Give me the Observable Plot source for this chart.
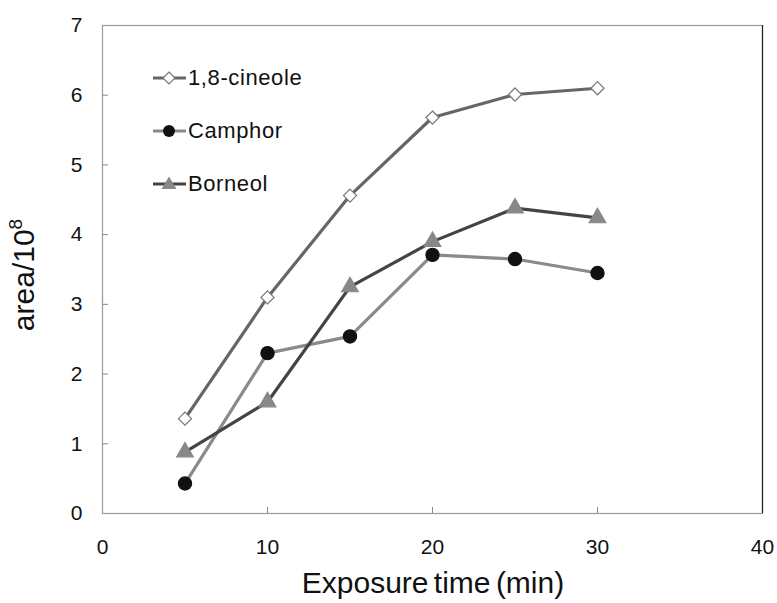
<!DOCTYPE html>
<html>
<head>
<meta charset="utf-8">
<script src="https://cdn.jsdelivr.net/npm/d3@7"></script>
<script src="https://cdn.jsdelivr.net/npm/@observablehq/plot@0.6"></script>
<style>
  html, body { margin: 0; padding: 0; background: #fff; }
  #wrap { position: relative; width: 777px; height: 603px; font-family: "Liberation Sans", Arial, sans-serif; }
  #legend { position: absolute; left: 153px; top: 64px; }
  .item { position: absolute; left: 0; height: 28px; display: flex; align-items: center; white-space: nowrap; font-size: 22px; letter-spacing: 0.6px; color: #111; }
  .item svg { margin-right: 2px; }
</style>
</head>
<body>
<div id="wrap"></div>
<script>
const times = [5, 10, 15, 20, 25, 30];
const seriesNames = ["1,8-cineole", "Camphor", "Borneol"];
const cineole = [1.36, 3.1, 4.56, 5.68, 6.01, 6.1];
const camphor = [0.43, 2.3, 2.54, 3.71, 3.65, 3.45];
const borneol = [0.88, 1.6, 3.25, 3.9, 4.38, 4.24];
const xTicks = [0, 10, 20, 30, 40];
const yTicks = [0, 1, 2, 3, 4, 5, 6, 7];

const styles = {
  "1,8-cineole": {line: "#666", symbol: "diamond2", fill: "#fff", stroke: "#777", r: 5.9},
  "Camphor": {line: "#8a8a8a", symbol: "circle", fill: "#111", stroke: "#111", r: 6.6},
  "Borneol": {line: "#444", symbol: "triangle", fill: "#888", stroke: "#888", r: 6.2}
};
const values = {"1,8-cineole": cineole, "Camphor": camphor, "Borneol": borneol};
const rows = seriesNames.flatMap(s => times.map((t, i) => ({series: s, t, v: values[s][i]})));

const marks = [
  Plot.frame({stroke: "#999", strokeWidth: 1.2}),
  Plot.ruleX([40], {stroke: "#222", strokeWidth: 1.2}),
  Plot.axisX(xTicks, {tickSize: 0, tickPadding: 26, fontSize: 21, fill: "#111", tickFormat: "d"}),
  Plot.axisX(xTicks.slice(1, -1), {tickSize: -6, text: null, stroke: "#888"}),
  Plot.axisY(yTicks, {tickSize: 0, tickPadding: 20, fontSize: 21, fill: "#111", tickFormat: "d"}),
  Plot.axisY(yTicks.slice(1, -1), {tickSize: -6, text: null, stroke: "#888"})
];
for (const s of seriesNames) {
  const st = styles[s];
  const d = rows.filter(r => r.series === s);
  marks.push(Plot.line(d, {x: "t", y: "v", stroke: st.line, strokeWidth: 3.2}));
}
for (const s of seriesNames) {
  const st = styles[s];
  const d = rows.filter(r => r.series === s);
  marks.push(Plot.dot(d, {x: "t", y: "v", symbol: () => st.symbol, fill: st.fill, stroke: st.stroke, strokeWidth: 1.2, r: st.r}));
}

const chart = Plot.plot({
  width: 777,
  height: 603,
  marginLeft: 102,
  marginRight: 15,
  marginTop: 25,
  marginBottom: 90,
  style: {fontFamily: "'Liberation Sans', Arial, sans-serif", background: "#fff", overflow: "visible"},
  x: {domain: [0, 40], label: null},
  y: {domain: [0, 7], label: null},
  symbol: {type: "identity"},
  marks
});
const wrap = document.getElementById("wrap");
wrap.appendChild(chart);

// axis titles as SVG text
const svg = d3.select(chart);
svg.append("text")
  .attr("x", 433).attr("y", 593)
  .attr("text-anchor", "middle")
  .attr("font-size", 30).attr("word-spacing", -3).attr("fill", "#111")
  .text("Exposure time (min)");
const yl = svg.append("text")
  .attr("transform", "translate(34,275) rotate(-90)")
  .attr("text-anchor", "middle")
  .attr("font-size", 30).attr("fill", "#111");
yl.append("tspan").text("area/10");
yl.append("tspan").attr("font-size", 19).attr("dy", -12).text("8");

// legend
const legend = document.createElement("div");
legend.id = "legend";
seriesNames.forEach((s, i) => {
  const st = styles[s];
  const item = document.createElement("div");
  item.className = "item";
  item.style.top = (i * 53) + "px";
  let sym;
  if (st.symbol === "diamond2") sym = `<path d="M16,8 L22,14 L16,20 L10,14 Z" fill="#fff" stroke="${st.stroke}" stroke-width="1.2"/>`;
  else if (st.symbol === "circle") sym = `<circle cx="16" cy="14" r="6" fill="${st.fill}"/>`;
  else sym = `<path d="M16,6.5 L23.5,19 L8.5,19 Z" fill="${st.fill}"/>`;
  item.innerHTML = `<svg width="33" height="28"><line x1="0" x2="33" y1="14" y2="14" stroke="${st.line}" stroke-width="3.2"/>${sym}</svg><span>${s}</span>`;
  legend.appendChild(item);
});
wrap.appendChild(legend);
</script>
</body>
</html>
